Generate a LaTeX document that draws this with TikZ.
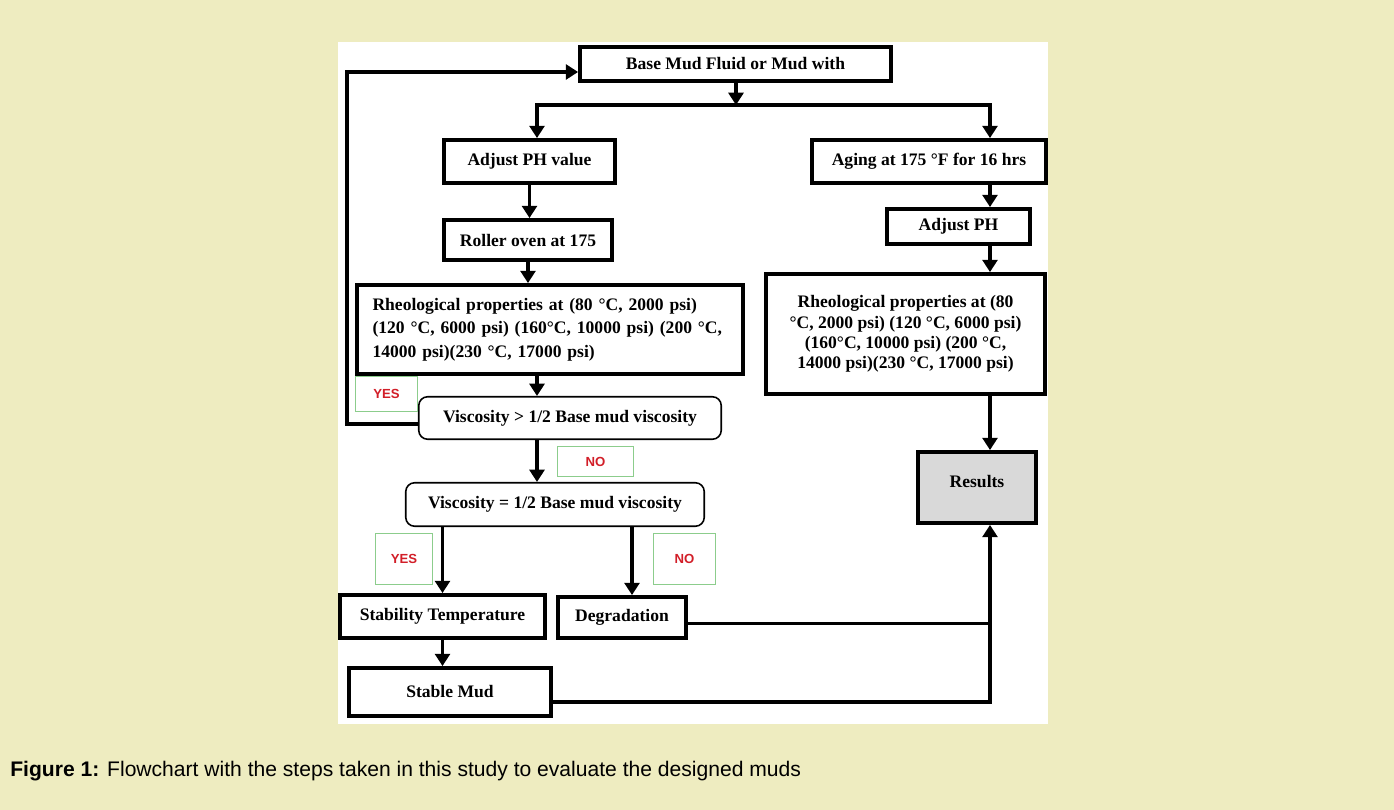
\documentclass[tikz,border=0pt]{standalone}
\usepackage{fontspec}
\setmainfont{Liberation Serif}
\newfontfamily\capfont{Liberation Sans}
\usetikzlibrary{arrows.meta}
\definecolor{pagebg}{RGB}{238,236,192}
\definecolor{tagred}{RGB}{210,30,40}
\definecolor{taggreen}{RGB}{140,205,140}
\definecolor{resgray}{RGB}{217,217,217}
\begin{document}
\begin{tikzpicture}[x=0.02cm, y=-0.02cm,
        >={Triangle[width=8.5pt,length=7pt]},
        stepbox/.style={draw, line width=2.2pt, fill=white, inner sep=2pt,
            font=\bfseries\fontsize{10}{12}\selectfont},
        testbox/.style={draw, line width=0.9pt, rounded corners=5pt, fill=white,
            font=\bfseries\fontsize{10}{12}\selectfont},
        tag/.style={draw=taggreen, line width=0.7pt, fill=white, text=tagred,
            font=\capfont\bfseries\fontsize{7.5}{9}\selectfont},
        link/.style={line width=2.2pt},
        flow/.style={link, ->}]
    \useasboundingbox (0,0) rectangle (1394,810);
    \fill[pagebg] (0,0) rectangle (1394,810);
    \fill[white] (338,42) rectangle (1048,724);
    \node[stepbox, minimum width=6.22cm, minimum height=0.68cm] (base) at (735.5,64) {Base Mud Fluid or Mud with};
    \node[stepbox, minimum width=3.42cm, minimum height=0.86cm] (adjph) at (529.5,161.5) {Adjust PH value};
    \node[stepbox, minimum width=4.68cm, minimum height=0.86cm] (aging) at (929,161.5) {Aging at 175 °F for 16 hrs};
    \node[stepbox, minimum width=3.36cm, minimum height=0.80cm] (roller) at (528,240) {Roller oven at 175};
    \node[stepbox, minimum height=1.78cm, inner xsep=0.31cm, text width=7.1cm, align=left,
        font=\bfseries\fontsize{10}{13.3}\selectfont] (rheoL) at (550,329.5)
        {Rheological properties at (80 °C, 2000 psi)\\(120 °C, 6000 psi) (160°C, 10000 psi) (200 °C,\\14000 psi)(230 °C, 17000 psi)};
    \node[stepbox, minimum width=2.86cm, minimum height=0.70cm] (adjph2) at (958.5,226.5) {Adjust PH};
    \node[stepbox, minimum width=5.58cm, minimum height=2.40cm, align=center,
        font=\bfseries\fontsize{10}{11.6}\selectfont] (rheoR) at (905.5,334)
        {Rheological properties at (80\\°C, 2000 psi) (120 °C, 6000 psi)\\(160°C, 10000 psi) (200 °C,\\14000 psi)(230 °C, 17000 psi)};
    \node[stepbox, fill=resgray, minimum width=2.36cm, minimum height=1.42cm, text depth=0.25cm] (results) at (977,487.5) {Results};
    \node[testbox, minimum width=6.05cm, minimum height=0.85cm] (visgt) at (570,418) {Viscosity > 1/2 Base mud viscosity};
    \node[testbox, minimum width=5.97cm, minimum height=0.87cm] (viseq) at (555,504.5) {Viscosity = 1/2 Base mud viscosity};
    \node[tag, minimum width=1.24cm, minimum height=0.70cm] (yes1) at (386.5,394) {YES};
    \node[tag, minimum width=1.52cm, minimum height=0.60cm] (no1) at (595.5,461.5) {NO};
    \node[tag, minimum width=1.14cm, minimum height=1.02cm] (yes2) at (404,559) {YES};
    \node[tag, minimum width=1.24cm, minimum height=1.02cm] (no2) at (684.5,559) {NO};
    \node[stepbox, minimum width=4.10cm, minimum height=0.86cm] (stab) at (442.5,616.5) {Stability Temperature};
    \node[stepbox, minimum width=2.56cm, minimum height=0.82cm] (degr) at (622,617.5) {Degradation};
    \node[stepbox, minimum width=4.04cm, minimum height=0.96cm] (stable) at (450,692) {Stable Mud};
    \node[anchor=base west, inner sep=0, font=\capfont\fontsize{12}{14}\selectfont] (caption) at (10,777)
        {\textbf{Figure 1:} Flowchart with the steps taken in this study to evaluate the designed muds};
    \coordinate (split) at (736,105);
    \coordinate (colL) at (537,105);
    \coordinate (colR) at (990,105);
    \coordinate (mid) at (537,0);
    \coordinate (degcol) at (632,0);
    \draw[flow] (base.south -| split) -- (split);
    \draw[link, <->] (colL |- adjph.north) -- (colL) -- (colR) -- (colR |- aging.north);
    \draw[flow] (adjph.south) -- (adjph.south |- roller.north);
    \draw[flow] (roller.south) -- (roller.south |- rheoL.north);
    \draw[flow] (rheoL.south -| mid) -- (visgt.north -| mid);
    \draw[flow] ([yshift=-0.12cm]visgt.west) -- ++(-71,0) |- ([yshift=-0.16cm]base.west);
    \draw[flow] (visgt.south -| mid) -- (viseq.north -| mid);
    \draw[flow] (viseq.south -| stab.north) -- (stab.north);
    \draw[flow] (viseq.south -| degcol) -- (degr.north -| degcol);
    \draw[flow] (stab.south) -- (stab.south |- stable.north);
    \draw[flow] (aging.south -| colR) -- (adjph2.north -| colR);
    \draw[flow] (adjph2.south -| colR) -- (rheoR.north -| colR);
    \draw[flow] (rheoR.south -| colR) -- (results.north -| colR);
    \draw[link] ([yshift=-0.12cm]degr.east) -- ([yshift=-0.12cm]degr.east -| colR);
    \draw[flow] ([yshift=-0.2cm]stable.east) -| (colR |- results.south);
\end{tikzpicture}
\end{document}
